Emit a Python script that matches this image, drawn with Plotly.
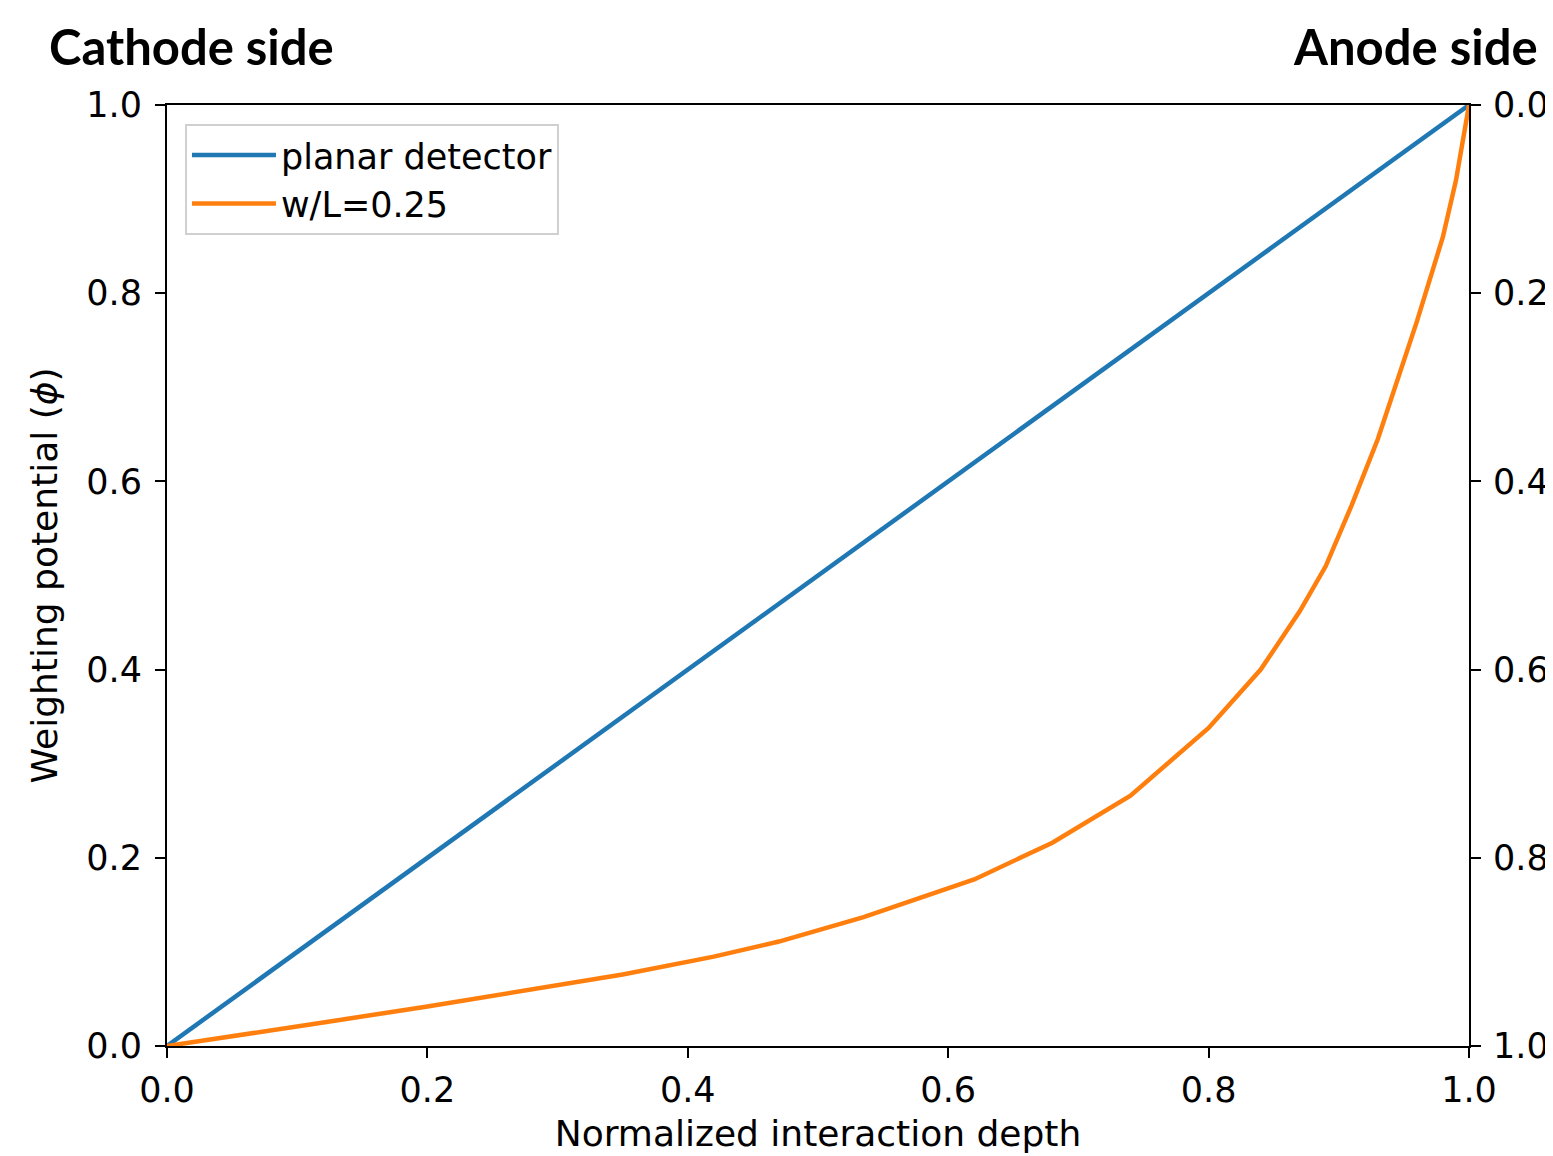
import plotly.graph_objects as go

# Data
depth_planar = [0.0, 1.0]
phi_planar = [0.0, 1.0]

depth_wl = [0.0, 0.06, 0.12, 0.2, 0.28, 0.35, 0.42, 0.47, 0.535, 0.62, 0.68, 0.74,
            0.80, 0.84, 0.87, 0.89, 0.91, 0.93, 0.96, 0.98, 0.99, 1.0]
phi_wl = [0.0, 0.013, 0.025, 0.042, 0.060, 0.076, 0.095, 0.111, 0.137, 0.177, 0.216, 0.266,
          0.338, 0.400, 0.462, 0.51, 0.575, 0.645, 0.77, 0.86, 0.92, 1.0]

tick_vals = [0.0, 0.2, 0.4, 0.6, 0.8, 1.0]
tick_text = ["0.0", "0.2", "0.4", "0.6", "0.8", "1.0"]

BLUE = "#1f77b4"
ORANGE = "#ff7f0e"
FONT = "DejaVu Sans"

fig = go.Figure()
fig.add_trace(go.Scatter(x=depth_planar, y=phi_planar, mode="lines",
                         name="planar detector", line=dict(color=BLUE, width=4.5)))
fig.add_trace(go.Scatter(x=depth_wl, y=phi_wl, mode="lines",
                         name="w/L=0.25", line=dict(color=ORANGE, width=4.5)))
# invisible trace to activate the right-hand (reversed) axis
fig.add_trace(go.Scatter(x=depth_planar, y=phi_planar, mode="lines", yaxis="y2",
                         opacity=0, showlegend=False, hoverinfo="skip",
                         line=dict(color="rgba(0,0,0,0)")))

axis_common = dict(
    showgrid=False, zeroline=False, showline=True, linecolor="black", linewidth=2,
    ticks="outside", ticklen=10, tickwidth=2, tickcolor="black",
    tickfont=dict(family=FONT, size=35, color="black"),
    tickvals=tick_vals, ticktext=tick_text,
)

fig.update_layout(
    width=1553, height=1156,
    margin=dict(l=159, r=92, t=97, b=118),
    paper_bgcolor="white", plot_bgcolor="white",
    font=dict(family=FONT, size=35, color="black"),
    xaxis=dict(range=[0, 1], mirror=True, ticklabelstandoff=2,
               title=dict(text="Normalized interaction depth",
                          font=dict(family=FONT, size=36), standoff=12),
               **axis_common),
    yaxis=dict(range=[0, 1], ticklabelstandoff=6,
               title=dict(text="Weighting potential (<i>\u03d5</i>)",
                          font=dict(family=FONT, size=36), standoff=18),
               **axis_common),
    yaxis2=dict(range=[1, 0], overlaying="y", side="right", anchor="x",
                ticklabelstandoff=5, **axis_common),
    legend=dict(x=0.0138, y=0.98, xanchor="left", yanchor="top",
                bgcolor="rgba(255,255,255,0.9)", bordercolor="#d0d0d0", borderwidth=2,
                font=dict(family=FONT, size=35, color="black"),
                itemwidth=84, tracegroupgap=0),
    showlegend=True,
)

fig.add_annotation(text="<b>Cathode side</b>", xref="paper", yref="paper",
                   x=-0.0922, y=1.0, xanchor="left", yanchor="bottom", yshift=28,
                   showarrow=False, font=dict(family="Lato", size=49, color="black"))
fig.add_annotation(text="<b>Anode side</b>", xref="paper", yref="paper",
                   x=1.0545, y=1.0, xanchor="right", yanchor="bottom", yshift=28,
                   showarrow=False, font=dict(family="Lato", size=49, color="black"))

fig.write_html("out.html")
